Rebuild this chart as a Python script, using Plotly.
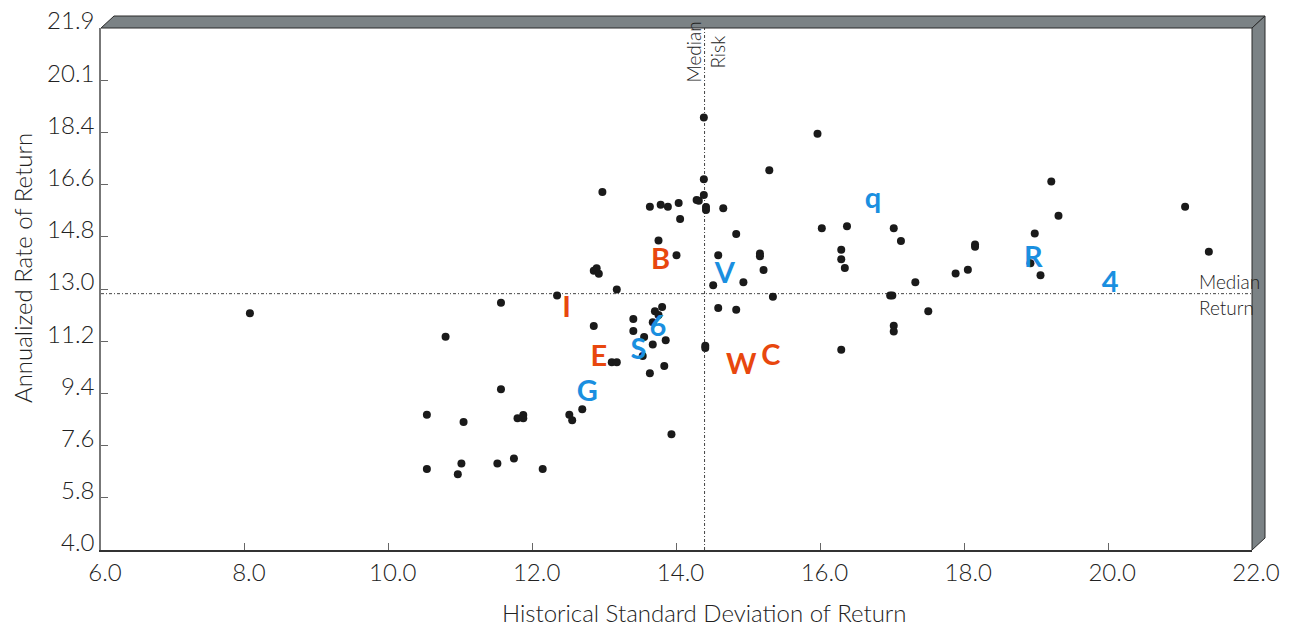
import plotly.graph_objects as go

# ---------------- data ----------------
risk = [8.07, 10.53, 11.04, 11.56, 11.79, 11.87, 11.87, 12.51, 12.55, 12.69,
        10.53, 11.01, 10.96, 11.51, 11.74, 12.14, 12.97, 13.63, 13.78, 13.88,
        14.03, 14.28, 14.05, 13.75, 14.00, 12.85, 12.89, 12.92, 12.34, 13.17,
        11.56, 10.79, 12.85, 13.40, 13.40, 13.55, 13.67, 13.85, 13.70, 13.75,
        13.80, 13.67, 13.53, 13.10, 13.17, 13.83, 13.63, 13.93, 14.38, 15.29,
        14.38, 14.38, 14.41, 14.41, 14.65, 14.83, 14.58, 15.16, 15.16, 15.21,
        14.93, 14.51, 15.34, 14.58, 14.83, 14.40, 14.40, 16.02, 16.37, 16.29,
        16.29, 16.34, 17.02, 17.12, 17.32, 16.97, 17.00, 17.50, 17.02, 17.02,
        16.29, 17.88, 18.05, 18.15, 18.15, 18.98, 18.92, 19.06, 19.21, 19.31,
        21.07, 21.40, 15.96, 14.31]
ret = [12.12, 8.64, 8.39, 9.51, 8.52, 8.63, 8.52, 8.64, 8.45, 8.83,
       6.78, 6.97, 6.60, 6.97, 7.14, 6.78, 16.28, 15.77, 15.84, 15.77,
       15.90, 16.00, 15.35, 14.61, 14.11, 13.58, 13.66, 13.47, 12.73, 12.93,
       12.48, 11.31, 11.68, 11.92, 11.51, 11.30, 11.05, 11.19, 12.19, 12.06,
       12.33, 11.81, 10.65, 10.44, 10.44, 10.31, 10.06, 7.97, 18.83, 17.02,
       16.71, 16.17, 15.76, 15.66, 15.72, 14.84, 14.11, 14.17, 14.07, 13.60,
       13.18, 13.08, 12.68, 12.30, 12.24, 11.00, 10.93, 15.03, 15.10, 14.30,
       13.97, 13.67, 15.03, 14.60, 13.18, 12.73, 12.73, 12.19, 11.69, 11.49,
       10.87, 13.48, 13.61, 14.48, 14.40, 14.85, 13.83, 13.42, 16.64, 15.46,
       15.77, 14.23, 18.27, 15.98]

orange_labels = ["B", "I", "E", "W", "C"]
orange_x = [13.78, 12.47, 12.92, 14.90, 15.31]
orange_y = [13.87, 12.25, 10.57, 10.29, 10.59]

blue_labels = ["V", "6", "S", "G", "q", "R", "4"]
blue_x = [14.67, 13.74, 13.47, 12.76, 16.73, 18.96, 20.03]
blue_y = [13.41, 11.57, 10.80, 9.37, 15.97, 13.95, 13.09]

median_risk = 14.39
median_return = 12.79

x_ticks = [6, 8, 10, 12, 14, 16, 18, 20, 22]
x_ticktext = ["6.0", "8.0", "10.0", "12.0", "14.0", "16.0", "18.0", "20.0", "22.0"]
y_ticks = [4.0, 5.79, 7.58, 9.37, 11.16, 12.95, 14.74, 16.53, 18.32, 20.11, 21.9]
y_ticktext = ["4.0", "5.8", "7.6", "9.4", "11.2", "13.0", "14.8", "16.6", "18.4", "20.1", "21.9"]

# ---------------- style / geometry ----------------
W, H = 1292, 629
ML, MR, MT, MB = 101, 40, 28, 79
PW, PH = W - ML - MR, H - MT - MB
DX, DY = 13 / PW, 12 / PH          # 3-D frame depth in paper units
FONT = "Lato, 'Open Sans', sans-serif"
TXT = "#222222"
ORANGE = "#E8470E"
BLUE = "#1A8FE0"
FRAME = "#7B8285"
LIGHT = 300

fig = go.Figure()

fig.add_trace(go.Scatter(
    x=risk, y=ret, mode="markers",
    marker=dict(size=8, color="#1A1A1A"),
    showlegend=False, hoverinfo="x+y", cliponaxis=False))

fig.add_trace(go.Scatter(
    x=orange_x, y=orange_y, mode="text", text=orange_labels,
    textposition="middle center",
    textfont=dict(family=FONT, size=29, color=ORANGE, weight="bold"),
    showlegend=False, cliponaxis=False))

fig.add_trace(go.Scatter(
    x=blue_x, y=blue_y, mode="text", text=blue_labels,
    textposition="middle center",
    textfont=dict(family=FONT, size=29, color=BLUE, weight="bold"),
    showlegend=False, cliponaxis=False))

shapes = [
    dict(type="line", xref="x", yref="y", x0=median_risk, x1=median_risk, y0=4.0, y1=21.9,
         line=dict(color="#444444", width=1, dash="3px,2px,1px,2px"), layer="below"),
    dict(type="line", xref="x", yref="y", x0=6, x1=22, y0=median_return, y1=median_return,
         line=dict(color="#444444", width=1, dash="3px,2px,1px,2px"), layer="below"),
    dict(type="path", xref="paper", yref="paper",
         path=f"M 0,1 L {DX},{1+DY} L {1+DX},{1+DY} L 1,1 Z",
         fillcolor=FRAME, line=dict(color="#2A2A2A", width=1), layer="above"),
    dict(type="path", xref="paper", yref="paper",
         path=f"M 1,1 L {1+DX},{1+DY} L {1+DX},{DY} L 1,0 Z",
         fillcolor=FRAME, line=dict(color="#2A2A2A", width=1), layer="above"),
]

small = dict(family=FONT, size=19, color=TXT, weight=LIGHT)
title_font = dict(family=FONT, size=24, color=TXT, weight=LIGHT)
annotations = [
    dict(text="Median", xref="x", yref="paper", x=median_risk, y=(PH - 24) / PH,
         xshift=-12, textangle=-90, showarrow=False, xanchor="center", yanchor="middle", font=small),
    dict(text="Risk", xref="x", yref="paper", x=median_risk, y=(PH - 24) / PH,
         xshift=12, textangle=-90, showarrow=False, xanchor="center", yanchor="middle", font=small),
    dict(text="Median", xref="x", yref="y", x=21.23, y=median_return, xanchor="left",
         yanchor="middle", yshift=12, showarrow=False, font=small),
    dict(text="Return", xref="x", yref="y", x=21.23, y=median_return, xanchor="left",
         yanchor="middle", yshift=-14, showarrow=False, font=small),
    dict(text="Historical Standard Deviation of Return", xref="paper", yref="paper",
         x=(704 - ML) / PW, y=-62 / PH, xanchor="center", yanchor="middle",
         showarrow=False, font=title_font),
    dict(text="Annualized Rate of Return", xref="paper", yref="paper",
         x=-79 / PW, y=(PH - 268 + MT) / PH, textangle=-90, xanchor="center", yanchor="middle",
         showarrow=False, font=title_font),
]

fig.update_layout(
    width=W, height=H,
    margin=dict(l=ML, r=MR, t=MT, b=MB, pad=0, autoexpand=False),
    paper_bgcolor="white", plot_bgcolor="white",
    shapes=shapes, annotations=annotations,
    font=dict(family=FONT, color=TXT),
    xaxis=dict(range=[6, 22], tickvals=x_ticks, ticktext=x_ticktext, automargin=False,
               ticks="inside", ticklen=7, tickcolor="#666666", tickwidth=1,
               showgrid=False, zeroline=False, showline=True, linecolor="#333333", linewidth=1.5,
               tickfont=dict(family=FONT, size=24, color=TXT, weight=LIGHT), ticklabelshift=4,
               ticklabelstandoff=0),
    yaxis=dict(range=[4.0, 21.9], tickvals=y_ticks, ticktext=y_ticktext, automargin=False,
               ticks="inside", ticklen=7, tickcolor="#666666", tickwidth=1,
               showgrid=False, zeroline=False, showline=True, linecolor="#777777", linewidth=1.5,
               tickfont=dict(family=FONT, size=24, color=TXT, weight=LIGHT), ticklabelshift=-7),
)

fig.write_html("out.html", config={"displayModeBar": False},
               post_script="document.body.style.margin='0';")
